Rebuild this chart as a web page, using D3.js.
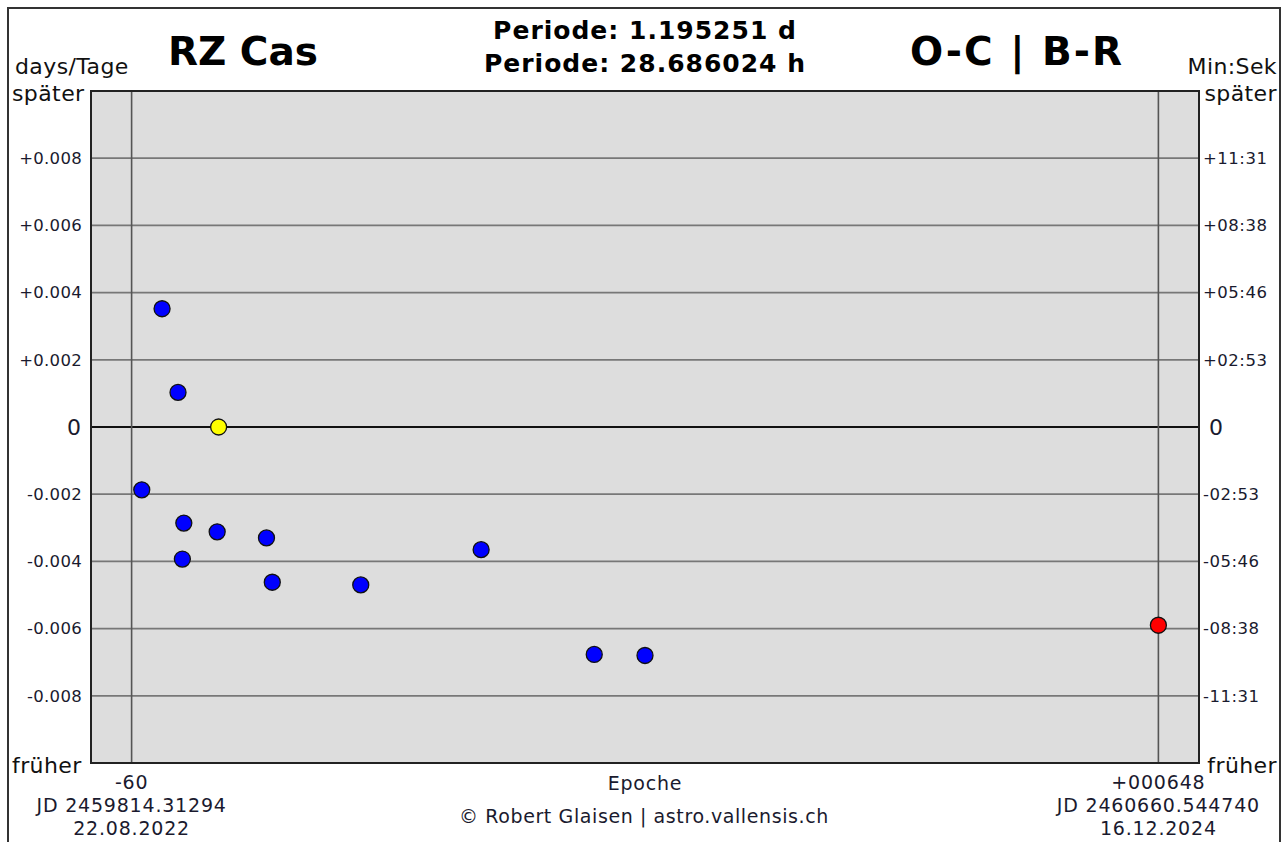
<!DOCTYPE html>
<html>
<head>
<meta charset="utf-8">
<script src="https://cdn.jsdelivr.net/npm/d3@7"></script>
<style>
  html, body { margin: 0; padding: 0; background: #ffffff; }
  svg { display: block; font-family: "DejaVu Sans", Verdana, sans-serif; }
</style>
</head>
<body>
<svg id="chart" width="1283" height="842"></svg>
<script>
// O-C observations of RZ Cas: epoch number and deviation in days
const epochs   = [-53, -39, -28, -25, -24, 0, -1, 33, 37, 98, 181, 259, 294, 648];
const ocDays   = [-0.00187, 0.00352, 0.00103, -0.00393, -0.00286, 0.0, -0.00312, -0.0033, -0.00462, -0.0047, -0.00365, -0.00677, -0.0068, -0.0059];
const pointKind = ["obs", "obs", "obs", "obs", "obs", "ref", "obs", "obs", "obs", "obs", "obs", "obs", "obs", "latest"];
const kindColors = { obs: "#0000ff", ref: "#ffff00", latest: "#ff0000" };

// y ticks in days with labels on both sides (days left, min:sec right)
const yTicks = [0.008, 0.006, 0.004, 0.002, 0, -0.002, -0.004, -0.006, -0.008];
const leftTickLabels  = ["+0.008", "+0.006", "+0.004", "+0.002", "0", "-0.002", "-0.004", "-0.006", "-0.008"];
const rightTickLabels = ["+11:31", "+08:38", "+05:46", "+02:53", "0", "-02:53", "-05:46", "-08:38", "-11:31"];

// epoch markers at both ends of the range
const xMarks = [-60, 648];
const xMarkLabels = ["-60", "+000648"];
const xMarkJD = ["JD 2459814.31294", "JD 2460660.544740"];
const xMarkDates = ["22.08.2022", "16.12.2024"];

const svg = d3.select("#chart");
const plot = { left: 91, top: 91, right: 1199, bottom: 763 };

const x = d3.scaleLinear().domain([-88, 676]).range([plot.left, plot.right]);
const y = d3.scaleLinear().domain([-0.01, 0.01]).range([plot.bottom, plot.top]);

// outer frame
svg.append("rect")
  .attr("x", 8).attr("y", 8).attr("width", 1272).attr("height", 850)
  .attr("fill", "#ffffff").attr("stroke", "#333").attr("stroke-width", 2);

// plot background
svg.append("rect")
  .attr("x", plot.left).attr("y", plot.top)
  .attr("width", plot.right - plot.left).attr("height", plot.bottom - plot.top)
  .attr("fill", "#dddddd");

// horizontal grid
const grid = svg.append("g");
grid.selectAll("line.h")
  .data(yTicks)
  .join("line")
  .attr("x1", plot.left).attr("x2", plot.right)
  .attr("y1", d => y(d)).attr("y2", d => y(d))
  .attr("stroke", d => d === 0 ? "#111" : "#777")
  .attr("stroke-width", 1.8);

// vertical epoch marker lines
grid.selectAll("line.v")
  .data(xMarks)
  .join("line")
  .attr("x1", d => x(d)).attr("x2", d => x(d))
  .attr("y1", plot.top).attr("y2", plot.bottom)
  .attr("stroke", "#555").attr("stroke-width", 1.6);

// plot border
svg.append("rect")
  .attr("x", plot.left).attr("y", plot.top)
  .attr("width", plot.right - plot.left).attr("height", plot.bottom - plot.top)
  .attr("fill", "none").attr("stroke", "#222").attr("stroke-width", 2);

// left axis labels
const leftAxis = d3.axisLeft(y).tickValues(yTicks).tickSize(0).tickPadding(9)
  .tickFormat((d, i) => leftTickLabels[i]);
const gL = svg.append("g").attr("transform", `translate(${plot.left},0)`).call(leftAxis);
gL.select(".domain").remove();
gL.selectAll("text")
  .attr("fill", "#1a1a2e")
  .style("font-family", '"DejaVu Sans", Verdana, sans-serif')
  .style("font-size", d => d === 0 ? "22px" : "16.5px")
  .style("letter-spacing", d => d === 0 ? "0px" : "0.3px")
  .attr("dx", d => d === 0 ? "-1" : "0");

// right axis labels
const rightAxis = d3.axisRight(y).tickValues(yTicks).tickSize(0).tickPadding(4)
  .tickFormat((d, i) => rightTickLabels[i]);
const gR = svg.append("g").attr("transform", `translate(${plot.right},0)`).call(rightAxis);
gR.select(".domain").remove();
gR.selectAll("text")
  .attr("fill", "#1a1a2e")
  .style("font-family", '"DejaVu Sans", Verdana, sans-serif')
  .style("font-size", d => d === 0 ? "22px" : "16.5px")
  .style("letter-spacing", d => d === 0 ? "0px" : "0.5px")
  .attr("dx", d => d === 0 ? "6" : "0");

// bottom epoch labels
const bottom = svg.append("g").attr("fill", "#1a1a2e").attr("text-anchor", "middle")
  .style("font-size", "19px").style("letter-spacing", "0.8px");
bottom.selectAll("text.ep").data(xMarks).join("text")
  .attr("x", d => x(d)).attr("y", 789).text((d, i) => xMarkLabels[i]);
bottom.selectAll("text.jd").data(xMarks).join("text")
  .attr("x", d => x(d)).attr("y", 812).text((d, i) => xMarkJD[i]);
bottom.selectAll("text.dt").data(xMarks).join("text")
  .attr("x", d => x(d)).attr("y", 835).text((d, i) => xMarkDates[i]);

bottom.append("text").attr("x", 645).attr("y", 790).text("Epoche");
bottom.append("text").attr("x", 644).attr("y", 823).style("letter-spacing", "0.6px")
  .text("© Robert Glaisen | astro.vallensis.ch");

// side captions
const side = svg.append("g").attr("fill", "#111").style("font-size", "22px").style("letter-spacing", "0.4px");
side.append("text").attr("x", 15).attr("y", 74).text("days/Tage");
side.append("text").attr("x", 12).attr("y", 101).text("später");
side.append("text").attr("x", 12).attr("y", 773).text("früher");
side.append("text").attr("x", 1277).attr("y", 74).attr("text-anchor", "end").text("Min:Sek");
side.append("text").attr("x", 1277).attr("y", 101).attr("text-anchor", "end").text("später");
side.append("text").attr("x", 1277).attr("y", 773).attr("text-anchor", "end").text("früher");

// titles
const titles = svg.append("g").attr("fill", "#000").attr("font-weight", "bold").attr("text-anchor", "middle");
titles.append("text").attr("x", 243).attr("y", 65).style("font-size", "39px").text("RZ Cas");
titles.append("text").attr("x", 1017).attr("y", 65).style("font-size", "39px")
  .attr("letter-spacing", "2").text("O-C | B-R");
titles.append("text").attr("x", 645).attr("y", 39).style("font-size", "25px")
  .attr("letter-spacing", "1").text("Periode: 1.195251 d");
titles.append("text").attr("x", 645).attr("y", 72).style("font-size", "25px")
  .attr("letter-spacing", "1").text("Periode: 28.686024 h");

// observation points
const pts = epochs.map((e, i) => ({ e, v: ocDays[i], k: pointKind[i] }));
svg.append("g").selectAll("circle")
  .data(pts)
  .join("circle")
  .attr("cx", d => x(d.e))
  .attr("cy", d => y(d.v))
  .attr("r", 8)
  .attr("fill", d => kindColors[d.k])
  .attr("stroke", "#111")
  .attr("stroke-width", 1.3);
</script>
</body>
</html>
